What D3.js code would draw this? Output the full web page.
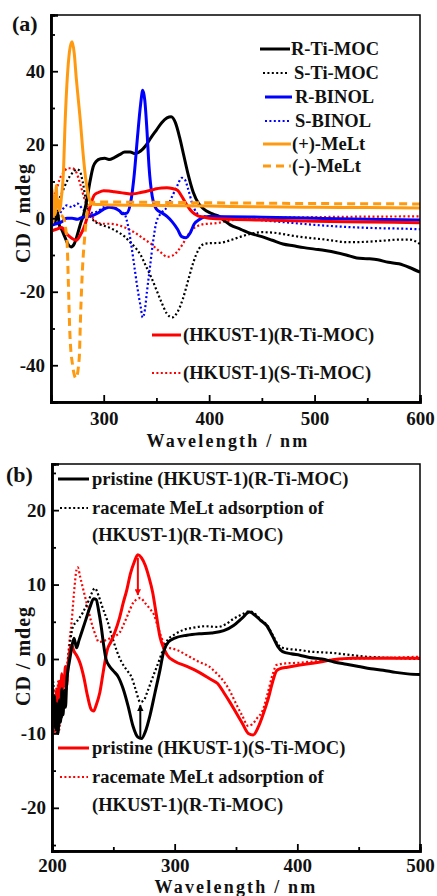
<!DOCTYPE html>
<html lang="en">
<head>
<meta charset="utf-8">
<title>CD spectra</title>
<script src="https://cdn.jsdelivr.net/npm/d3@7"></script>
<style>
  body { margin: 0; background: #fff; }
  svg text { font-family: "Liberation Serif", "Times New Roman", serif; font-weight: bold; fill: #111; }
</style>
</head>
<body>
<script>
// ---- panel (a) data : [wavelength nm, CD mdeg] ----
const rTiMoc = [[250,1],[252,4],[254,-1],[256,2],[258,-2],[260,-3],[263,-5],[266,-7],[269,-7.8],[272,-7],[275,-4.5],[278,-1.5],[281,1],[284,5],[287,10],[290,14],[293,15.5],[297,16.2],[301,16.3],[305,16],[310,16.5],[315,17.3],[320,18],[325,18],[330,17.6],[335,18.3],[340,19.8],[345,22],[350,24],[355,26],[360,27.3],[364,27.6],[368,26],[372,22],[376,17],[380,12],[385,7],[390,4],[395,2.5],[400,1.6],[405,1],[410,0.4],[415,-0.8],[420,-1.8],[430,-3],[440,-4.2],[450,-5],[460,-6],[470,-7],[480,-7.5],[490,-8],[500,-8.4],[510,-8.8],[520,-9.3],[530,-10],[540,-10.8],[550,-11],[560,-11.3],[570,-12],[580,-12.4],[590,-13.4],[600,-14.7]];
const sTiMoc = [[250,0],[253,2],[256,4],[259,6],[262,8],[265,10],[268,11.5],[271,12.5],[274,13.3],[277,13],[280,10],[283,5],[286,1.5],[290,-0.5],[295,-1.5],[300,-2],[305,-2.5],[310,-3.2],[315,-4],[320,-5],[325,-6.5],[330,-8],[335,-10],[340,-13],[345,-16],[350,-19.5],[355,-23],[360,-26],[365,-27],[370,-25.5],[375,-22],[380,-17],[385,-12],[390,-8.5],[395,-7],[400,-6.8],[410,-6.7],[420,-6],[430,-5],[440,-4.2],[450,-3.8],[460,-3.9],[470,-4.3],[480,-4.8],[490,-5.2],[500,-5.5],[510,-5.8],[520,-6.2],[530,-6.5],[540,-6.5],[550,-6.4],[560,-6.2],[570,-6],[580,-5.8],[590,-5.8],[600,-7]];
const rBinol = [[250,-2],[255,-1.5],[260,-1],[265,0],[270,0],[275,-0.3],[280,0.3],[285,0.5],[290,0.8],[295,1.5],[300,2.5],[305,3],[310,2.8],[315,2],[318,1.2],[322,1.4],[326,5],[329,12],[332,22],[335,31],[337,34.8],[339,32],[341,24],[343,14],[346,6],[350,2.5],[355,1.5],[360,0.5],[365,-1],[370,-3],[374,-5],[378,-5.3],[382,-4],[386,-1.5],[390,-0.5],[395,0.3],[400,0.5],[450,0.3],[500,0],[550,-0.3],[600,-0.5]];
const sBinol = [[250,0],[253,1],[256,0.5],[260,2],[265,3.5],[270,3],[275,4],[280,2.5],[285,1.5],[290,1.5],[295,2],[300,3],[305,3.5],[310,3],[315,2],[320,1],[323,-2],[326,-7],[329,-13],[332,-19],[335,-24],[337,-27],[339,-25],[341,-20],[344,-13],[347,-6],[350,-1],[355,1.5],[360,3],[365,6],[370,9],[374,11],[377,10.5],[380,8],[384,4],[388,1.5],[392,0.5],[400,0.5],[420,0.2],[440,-0.3],[460,-0.8],[480,-1.3],[500,-1.8],[520,-2.2],[540,-2.5],[560,-2.7],[580,-2.8],[600,-3]];
const plusMeLt = [[250,2],[251,8],[252,-1],[253,6],[254,1],[255,9],[256,3],[257,5],[258,2],[260,6],[262,14],[263,23],[265,36],[267,44],[269,47.5],[270,48],[272,45],[274,38],[276,32],[278,26],[280,19],[282,13],[284,8.5],[286,5.5],[288,4.2],[290,3.8],[300,3.7],[350,3.5],[400,3.3],[450,3.1],[500,3],[550,2.9],[600,2.8]];
const minusMeLt = [[250,3],[253,2],[256,1.5],[259,1],[262,0],[264,-3],[265.5,-8],[266.5,-18],[268,-32],[270.5,-40],[273.7,-43.5],[276.8,-38],[278,-27],[280,-13],[282,-5],[284,1],[286,3.5],[290,4.3],[300,4.4],[400,4.2],[500,4],[600,3.9]];
const hkustR = [[250,-3.5],[255,-3],[260,-2.5],[265,-4.3],[270,-5.5],[274,-6],[278,-4.5],[282,-2],[285,1],[288,4],[291,6.3],[295,7],[300,7.5],[305,7.4],[310,7.2],[315,7],[320,6.8],[325,6.6],[330,6.7],[335,7],[340,7.3],[345,7.6],[350,8],[355,8.2],[360,8.3],[365,8.1],[370,7.6],[374,6],[378,4],[382,2.3],[386,1.2],[390,0.6],[395,0.3],[400,0],[450,-0.5],[500,-0.8],[550,-1],[600,-1.2]];
const hkustS = [[250,3],[252,5],[254,7],[256,8.5],[258,10.5],[262,12.5],[266,13.6],[270,13.6],[274,12.5],[278,9],[282,5],[286,2],[290,0],[295,-1.3],[300,-1.5],[305,-1.5],[310,-1.6],[315,-2],[320,-2.5],[325,-3.2],[330,-4],[335,-5],[340,-6],[345,-7],[350,-8.3],[355,-9.5],[360,-10.5],[365,-10.2],[370,-9],[375,-7],[380,-4.5],[385,-2.8],[390,-2],[395,-1.6],[400,-1.5],[410,-1.2],[420,-0.6],[430,-0.2],[440,0],[500,0.3],[600,0.5]];

// ---- panel (b) data ----
const pristineR = [[200,-4],[201,-8],[202,-5],[203,-9.5],[204,-6],[205,-10],[206,-5.5],[207,-8.5],[208,-4],[209,-7.5],[210,-4.5],[211,-6.5],[212,-3],[213,-1.5],[214,-0.5],[215,0.5],[216,1.5],[218,2.8],[220,1.5],[222,2.5],[225,4],[228,5.5],[231,7],[234,8.1],[236,8],[238,6.5],[240,4.5],[242,2],[244,0],[247,-1],[250,-1.6],[254,-2.4],[258,-4],[262,-6.3],[266,-9],[270,-10.5],[273,-10.7],[276,-9.8],[280,-7.5],[284,-4.5],[288,-1.5],[291,1],[295,2.3],[300,2.8],[310,3.2],[320,3.4],[330,3.5],[340,3.8],[348,4.5],[355,5.5],[361,6.3],[366,5.8],[370,5.2],[375,4.5],[380,3],[384,1.7],[388,1],[395,0.7],[402,0.5],[410,0.2],[420,0],[430,-0.4],[440,-0.7],[450,-1],[460,-1.3],[470,-1.5],[480,-1.8],[490,-2],[500,-2.1]];
const racemateR = [[200,-6],[201,-3],[202,-9],[203,-5],[204,-10],[205,-6],[206,-9],[207,-4],[208,-8],[209,-3],[210,-6],[211,-2],[212,-4],[213,0],[214,1],[215,2.5],[217,4.3],[220,5],[225,6.2],[229,7.5],[232,8.7],[235,9.5],[238,8.5],[241,7],[245,5.2],[249,3],[253,1],[257,-0.5],[261,-1.5],[265,-2.5],[268,-4],[272,-5.8],[275,-5.5],[278,-4.3],[282,-2.5],[286,-0.8],[290,1],[294,2.5],[300,3.3],[307,3.9],[315,4.2],[325,4.4],[335,4.3],[342,4.7],[348,5.4],[355,6],[361,6.4],[366,6],[370,5.3],[375,4.6],[380,3.2],[384,2],[388,1.5],[395,1.3],[402,1.2],[410,1],[420,0.9],[430,0.8],[440,0.6],[457,0.3],[470,0.2],[484,0.1],[500,0]];
const pristineS = [[200,-7],[201,-9],[202,-5],[203,-8],[204,-4],[205,-7],[206,-3],[207,-5.5],[208,-2],[209,-4],[210,-3],[211,-1],[212,-3.5],[213,-1],[214,0.5],[215,1.5],[216,1.8],[218,1],[220,0.5],[223,-0.6],[226,-2.5],[229,-5],[232,-6.8],[234,-7],[236,-6.2],[239,-4.5],[242,-1.5],[245,1.2],[248,2.3],[251,3.5],[255,5.5],[258,7.5],[261,9.3],[264,11.5],[267,13],[270,14],[273,13.6],[276,12.6],[279,11],[282,9],[285,6],[288,3],[291,1.5],[294,0.5],[300,-0.3],[310,-1],[320,-1.8],[330,-2.8],[335,-3.3],[340,-4.5],[345,-5.8],[350,-7.2],[355,-8.6],[360,-10],[364,-10.2],[368,-9.2],[372,-7.5],[376,-5.5],[380,-3],[383,-1.6],[386,-1.3],[392,-1.1],[402,-0.8],[415,-0.5],[429,-0.1],[445,0.1],[500,0.1]];
const racemateS = [[200,-9],[201,-6],[202,-10],[203,-4],[204,-8],[205,-3],[206,-9.5],[207,-5],[208,-7],[209,-2],[210,-5],[211,-1],[212,-3],[213,0],[214,2],[216,5],[218,9],[220,12],[221,12.3],[223,11],[226,9],[229,7],[232,5],[236,3],[238,2.3],[242,2.4],[246,2.7],[250,3],[255,3.5],[258,4.5],[262,6],[266,7.5],[269,8],[272,8.2],[276,7.5],[280,6.7],[283,6],[286,4.5],[289,3],[293,1.6],[298,1.4],[302,1.2],[310,0.5],[320,-0.4],[328,-1],[334,-1.9],[340,-3],[345,-4.3],[350,-6],[355,-7.6],[360,-9],[363,-8.8],[367,-8],[372,-6.8],[376,-4.5],[380,-2],[383,-0.8],[390,-0.6],[402,-0.5],[415,-0.3],[429,-0.1],[457,0.1],[480,0.2],[500,0.3]];
// arrows in (b): wavelength, from value, to value
const arrowsB = [[270, 13.6, 8.6], [272, -10.6, -6.2]];

// ticks
const xTicksA = [300, 400, 500, 600], xMinorA = [250, 350, 450, 550];
const yTicksA = [-40, -20, 0, 20, 40], yMinorA = [-50, -30, -10, 10, 30, 50];
const xTicksB = [200, 300, 400, 500], xMinorB = [250, 350, 450];
const yTicksB = [-20, -10, 0, 10, 20], yMinorB = [-25, -15, -5, 5, 15, 25];

const svg = d3.select("body").append("svg").attr("width", 437).attr("height", 896);

const styles = {
  solid: {w: 3, dash: null},
  dot: {w: 2.2, dash: "2,2.4"},
  dash: {w: 3, dash: "8,5"}
};

function drawPanel(p) {
  const x = d3.scaleLinear().domain(p.xDomain).range([p.left, p.right]);
  const y = d3.scaleLinear().domain(p.yDomain).range([p.bottom, p.top]);
  const g = svg.append("g");

  const clipId = "clip" + p.name;
  g.append("clipPath").attr("id", clipId).append("rect")
    .attr("x", p.left).attr("y", p.top).attr("width", p.right - p.left).attr("height", p.bottom - p.top);

  const line = d3.line().x(d => x(d[0])).y(d => y(d[1])).curve(d3.curveMonotoneX);
  const plot = g.append("g").attr("clip-path", "url(#" + clipId + ")");
  p.series.forEach(s => {
    plot.append("path").datum(s.data)
      .attr("d", line)
      .attr("fill", "none")
      .attr("stroke", s.color)
      .attr("stroke-width", styles[s.style].w)
      .attr("stroke-dasharray", styles[s.style].dash)
      .attr("stroke-linejoin", "round");
  });

  // frame
  g.append("rect").attr("x", p.left).attr("y", p.top)
    .attr("width", p.right - p.left).attr("height", p.bottom - p.top)
    .attr("fill", "none").attr("stroke", "#000").attr("stroke-width", 1.5);

  // axes, ticks inward
  g.append("g").attr("transform", "translate(0," + p.bottom + ")")
    .call(d3.axisBottom(x).tickValues(p.xTicks).tickSize(-7).tickPadding(p.xPad).tickFormat(d3.format("d")));
  g.append("g").attr("transform", "translate(0," + p.bottom + ")")
    .call(d3.axisBottom(x).tickValues(p.xMinor).tickSize(-4).tickFormat(""));
  const yAx = g.append("g").attr("transform", "translate(" + p.left + ",0)")
    .call(d3.axisLeft(y).tickValues(p.yTicks).tickSize(-7).tickPadding(6).tickFormat(d3.format("d")));
  g.append("g").attr("transform", "translate(" + p.left + ",0)")
    .call(d3.axisLeft(y).tickValues(p.yMinor).tickSize(-4).tickFormat(""));
  g.selectAll(".domain").attr("stroke", "#000").attr("stroke-width", 2.5);
  g.selectAll(".tick line").attr("stroke", "#000").attr("stroke-width", 1.8);
  g.selectAll(".tick text").attr("font-family", null).style("font-size", "19px").attr("fill", "#111");
  yAx.selectAll(".tick text").text(d => d < 0 ? "-" + Math.abs(d) : d);

  // titles
  g.append("text").attr("x", p.labelX).attr("y", p.labelY).style("font-size", "22px").text(p.label);
  g.append("text").attr("transform", "translate(" + p.yTitleX + "," + p.yTitleY + ") rotate(-90)")
    .attr("text-anchor", "middle").style("font-size", "20px").style("letter-spacing", "1px").text("CD / mdeg");
  g.append("text").attr("x", p.xTitleX).attr("y", p.xTitleY).attr("text-anchor", "middle")
    .style("font-size", "18px").style("letter-spacing", "2.2px").text("Wavelength / nm");

  // legend
  p.legend.forEach(l => {
    if (l.s) {
      g.append("line").attr("x1", l.x1).attr("x2", l.x2).attr("y1", l.y).attr("y2", l.y)
        .attr("stroke", l.s.color).attr("stroke-width", styles[l.s.style].w)
        .attr("stroke-dasharray", styles[l.s.style].dash);
    }
    g.append("text").attr("x", l.tx).attr("y", l.y + 6).style("font-size", "18.5px").text(l.text);
  });

  return {x, y, g};
}

const sA = {
  r: {data: rTiMoc, color: "#000", style: "solid"},
  s: {data: sTiMoc, color: "#000", style: "dot"},
  rb: {data: rBinol, color: "#0000ff", style: "solid"},
  sb: {data: sBinol, color: "#0000ff", style: "dot"},
  pm: {data: plusMeLt, color: "#ff9a10", style: "solid"},
  mm: {data: minusMeLt, color: "#ff9a10", style: "dash"},
  hr: {data: hkustR, color: "#ff0000", style: "solid"},
  hs: {data: hkustS, color: "#ff0000", style: "dot"}
};

drawPanel({
  name: "a", left: 51, right: 420, top: 15, bottom: 402,
  xDomain: [250, 600], yDomain: [-50, 55.3],
  xTicks: xTicksA, xMinor: xMinorA, yTicks: yTicksA, yMinor: yMinorA, xPad: 10,
  series: [sA.hs, sA.s, sA.sb, sA.r, sA.rb, sA.hr, sA.mm, sA.pm],
  label: "(a)", labelX: 12, labelY: 31,
  yTitleX: 30, yTitleY: 213, xTitleX: 228, xTitleY: 447,
  legend: [
    {s: sA.r, x1: 260, x2: 290, y: 49, tx: 291, text: "R-Ti-MOC"},
    {s: sA.s, x1: 263, x2: 287, y: 73, tx: 294, text: "S-Ti-MOC"},
    {s: sA.rb, x1: 265, x2: 292, y: 97, tx: 295, text: "R-BINOL"},
    {s: sA.sb, x1: 265, x2: 289, y: 121, tx: 295, text: "S-BINOL"},
    {s: sA.pm, x1: 263, x2: 291, y: 144, tx: 292, text: "(+)-MeLt"},
    {s: sA.mm, x1: 263, x2: 291, y: 166, tx: 292, text: "(-)-MeLt"},
    {s: sA.hr, x1: 152, x2: 181, y: 335, tx: 183, text: "(HKUST-1)(R-Ti-MOC)"},
    {s: sA.hs, x1: 152, x2: 181, y: 373, tx: 183, text: "(HKUST-1)(S-Ti-MOC)"}
  ]
});

const sB = {
  pr: {data: pristineR, color: "#000", style: "solid"},
  rr: {data: racemateR, color: "#000", style: "dot"},
  ps: {data: pristineS, color: "#ff0000", style: "solid"},
  rs: {data: racemateS, color: "#ff0000", style: "dot"}
};

const pb = drawPanel({
  name: "b", left: 52, right: 420, top: 464, bottom: 851,
  xDomain: [200, 500], yDomain: [-25.8, 26.2],
  xTicks: xTicksB, xMinor: xMinorB, yTicks: yTicksB, yMinor: yMinorB, xPad: 8,
  series: [sB.rs, sB.rr, sB.ps, sB.pr],
  label: "(b)", labelX: 6, labelY: 482,
  yTitleX: 30, yTitleY: 656, xTitleX: 236, xTitleY: 893,
  legend: [
    {s: sB.pr, x1: 58, x2: 89, y: 479, tx: 92, text: "pristine (HKUST-1)(R-Ti-MOC)"},
    {s: sB.rr, x1: 60, x2: 88, y: 508, tx: 92, text: "racemate MeLt adsorption of"},
    {s: null, y: 535, tx: 92, text: "(HKUST-1)(R-Ti-MOC)"},
    {s: sB.ps, x1: 58, x2: 89, y: 748, tx: 92, text: "pristine (HKUST-1)(S-Ti-MOC)"},
    {s: sB.rs, x1: 60, x2: 88, y: 777, tx: 92, text: "racemate MeLt adsorption of"},
    {s: null, y: 805, tx: 92, text: "(HKUST-1)(R-Ti-MOC)"}
  ]
});

// arrows
const defs = svg.append("defs");
[["ar", "#ff0000"], ["ak", "#000"]].forEach(([id, c]) => {
  defs.append("marker").attr("id", id).attr("viewBox", "0 0 10 10").attr("refX", 9).attr("refY", 5)
    .attr("markerWidth", 3.2).attr("markerHeight", 3.2).attr("orient", "auto")
    .append("path").attr("d", "M0,0L10,5L0,10Z").attr("fill", c);
});
pb.g.selectAll(".arrow").data(arrowsB).enter().append("line")
  .attr("x1", d => pb.x(d[0])).attr("x2", d => pb.x(d[0]))
  .attr("y1", d => pb.y(d[1])).attr("y2", d => pb.y(d[2]))
  .attr("stroke", (d, i) => i === 0 ? "#ff0000" : "#000").attr("stroke-width", 2)
  .attr("marker-end", (d, i) => i === 0 ? "url(#ar)" : "url(#ak)");
</script>
</body>
</html>
